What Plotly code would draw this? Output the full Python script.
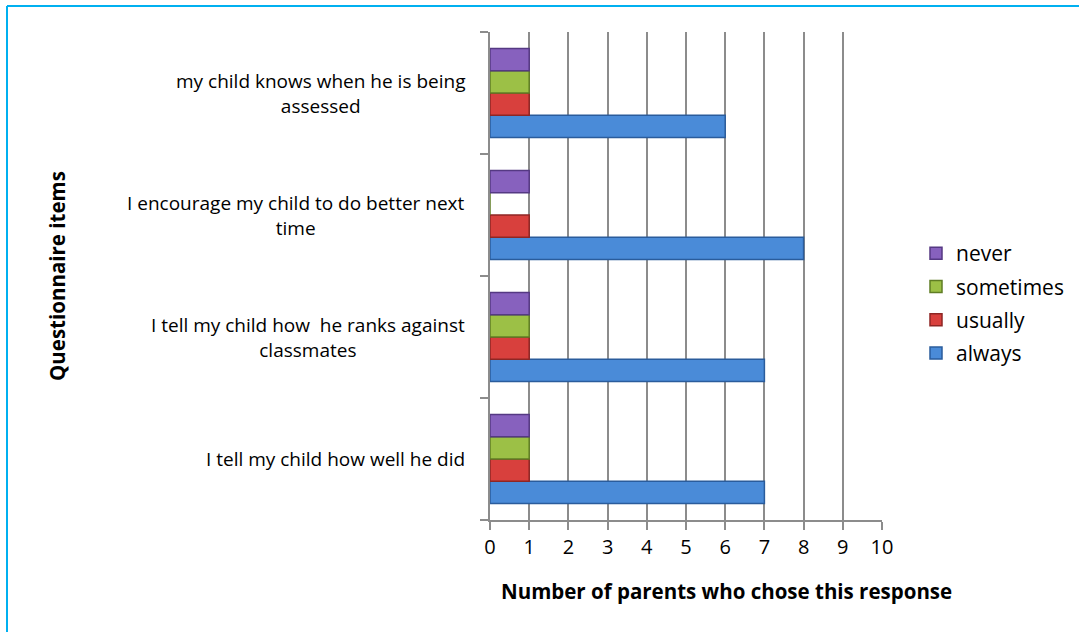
import plotly.graph_objects as go

categories = [
    "I tell my child how well he did",
    "I tell my child how  he ranks against classmates",
    "I encourage my child to do better next time",
    "my child knows when he is being assessed",
]
category_labels = [
    "I tell my child how well he did",
    "I tell my child how  he ranks against<br>classmates",
    "I encourage my child to do better next<br>time",
    "my child knows when he is being<br>assessed",
]
series_names = ["always", "usually", "sometimes", "never"]
always = [7, 7, 8, 6]
usually = [1, 1, 1, 1]
sometimes = [1, 1, 0, 1]
never = [1, 1, 1, 1]
series_values = [always, usually, sometimes, never]
x_ticks = list(range(0, 11))

colors = ["#4A8BD8", "#D8403D", "#9CC046", "#8761BE"]
edges = ["#2A5C9C", "#8E2624", "#5F7D24", "#553983"]

W, H = 1079, 632
PL, PR, PT, PB = 490, 882, 32, 520          # plot area in page pixels
L, R, T, B = PL, W - PR, PT, H - PB
pw, ph = PR - PL, PB - PT


def px_x(p):
    return (p - PL) / pw


def px_y(p):
    return (PB - p) / ph


FONT = "'Open Sans', sans-serif"

fig = go.Figure()
n = len(series_names)
for i, (name, vals, c, e) in enumerate(zip(series_names, series_values, colors, edges)):
    fig.add_trace(go.Bar(
        y=categories, x=vals, name=name, orientation="h",
        marker=dict(color=c, line=dict(color=e, width=1.5)),
        legendgroup=name, legendrank=n - i,
    ))

annotations = []
for cat, lab in zip(categories, category_labels):
    annotations.append(dict(
        x=px_x(467), xref="paper", y=cat, yref="y", text=lab,
        showarrow=False, xanchor="right", yanchor="middle", align="center",
        font=dict(family=FONT, size=19, color="#000000"),
    ))
annotations.append(dict(
    x=px_x(726), xref="paper", y=px_y(591), yref="paper",
    text="<b>Number of parents who chose this response</b>",
    showarrow=False, xanchor="center", yanchor="middle",
    font=dict(family=FONT, size=20.5, color="#000000"),
))
annotations.append(dict(
    x=px_x(57), xref="paper", y=px_y(276), yref="paper",
    text="<b>Questionnaire items</b>", textangle=-90,
    showarrow=False, xanchor="center", yanchor="middle",
    font=dict(family=FONT, size=20.5, color="#000000"),
))

border = dict(color="#00B0F0", width=2)
fig.update_layout(
    width=W, height=H,
    margin=dict(l=L, r=R, t=T, b=B, autoexpand=False),
    paper_bgcolor="white", plot_bgcolor="white",
    barmode="group", bargap=0.27, bargroupgap=0,
    font=dict(family=FONT, size=18, color="#000000"),
    xaxis=dict(
        range=[0, 10], tickvals=x_ticks, ticktext=[str(v) for v in x_ticks],
        showgrid=True, gridcolor="#8C8C8C", gridwidth=1.5,
        showline=True, linecolor="#8C8C8C", linewidth=1.5,
        ticks="outside", ticklen=8, tickcolor="#8C8C8C", tickwidth=1.5,
        tickfont=dict(family=FONT, size=20, color="#000000"),
        zeroline=False, fixedrange=True,
    ),
    yaxis=dict(
        categoryorder="array", categoryarray=categories,
        showticklabels=False, tickson="boundaries",
        ticks="outside", ticklen=8, tickcolor="#8C8C8C", tickwidth=1.5,
        showline=True, linecolor="#8C8C8C", linewidth=1.5,
        showgrid=False, fixedrange=True,
    ),
    legend=dict(
        x=px_x(916), y=px_y(233), xanchor="left", yanchor="top",
        traceorder="grouped", tracegroupgap=3,
        font=dict(family=FONT, size=21, color="#000000"),
        itemwidth=30, bgcolor="rgba(0,0,0,0)",
    ),
    annotations=annotations,
    shapes=[
        dict(type="line", xref="paper", yref="paper",
             x0=px_x(7), x1=px_x(1100), y0=px_y(6), y1=px_y(6),
             line=border, layer="above"),
        dict(type="line", xref="paper", yref="paper",
             x0=px_x(7), x1=px_x(7), y0=px_y(6), y1=px_y(660),
             line=border, layer="above"),
    ],
)

fig.write_html(
    "out.html",
    config={"displayModeBar": False},
    post_script="document.body.style.margin='0';",
)
